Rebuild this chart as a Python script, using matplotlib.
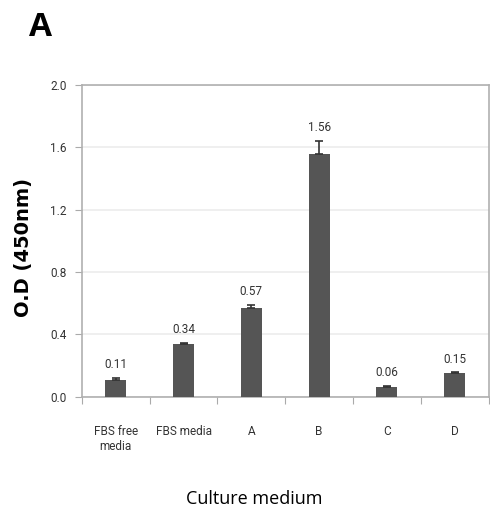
import matplotlib.pyplot as plt
import numpy as np

media = ['FBS free\nmedia', 'FBS media', 'A', 'B', 'C', 'D']
od_values = [0.11, 0.34, 0.57, 1.56, 0.06, 0.15]
od_errors = [0.01, 0.005, 0.02, 0.08, 0.008, 0.006]

plt.rcParams['font.family'] = ['Liberation Sans Narrow', 'Roboto', 'DejaVu Sans']

fig = plt.figure(figsize=(4.9, 5.12), dpi=100)
ax = fig.add_axes([0.167, 0.225, 0.83, 0.609])

x = np.arange(len(media))
# only the upper whisker is drawn, as in the original figure
ax.bar(x, od_values, width=0.31, color='#555555', zorder=3,
       yerr=[np.zeros(len(od_errors)), od_errors],
       error_kw=dict(ecolor='#333333', elinewidth=1.2, capsize=3, capthick=1.2, zorder=4))

# value labels above each bar
for xi, v, e in zip(x, od_values, od_errors):
    ax.annotate(f'{v:.2f}', (xi, v + e), xytext=(0, 5), textcoords='offset points',
                ha='center', va='bottom', fontsize=8.5, color='#333333')

ax.set_xlim(-0.5, len(media) - 0.5)
ax.set_ylim(0, 2.0)
ax.set_yticks([0.0, 0.4, 0.8, 1.2, 1.6, 2.0])
ax.set_yticklabels(['0.0', '0.4', '0.8', '1.2', '1.6', '2.0'])
ax.yaxis.grid(True, color='#ececec', linewidth=1.2, zorder=0)

# ticks sit between categories, labels centred under bars
ax.set_xticks(np.arange(len(media) + 1) - 0.5)
ax.set_xticklabels([])
ax.set_xticks(x, minor=True)
ax.set_xticklabels(media, minor=True, fontsize=8.5, color='#333333')
ax.tick_params(axis='x', which='minor', length=0, pad=20)
ax.tick_params(axis='x', which='major', length=5, color='#aaaaaa', direction='out')
ax.tick_params(axis='y', length=5, color='#aaaaaa', labelsize=8.5, labelcolor='#333333', pad=6)

for s in ax.spines.values():
    s.set_color('#b0b0b0')
    s.set_linewidth(1.2)

ax.set_ylabel('O.D (450nm)', fontsize=14, fontweight='bold', family='DejaVu Sans')
ax.yaxis.set_label_coords(-0.12, 0.48)
ax.set_xlabel('Culture medium', fontsize=13, family=['Open Sans', 'DejaVu Sans'])
ax.xaxis.set_label_coords(0.425, -0.30)

fig.text(0.083, 0.947, 'A', fontsize=24, fontweight='bold', family=['Open Sans', 'DejaVu Sans'],
         ha='center', va='center')

plt.savefig('out.png', dpi=100)
